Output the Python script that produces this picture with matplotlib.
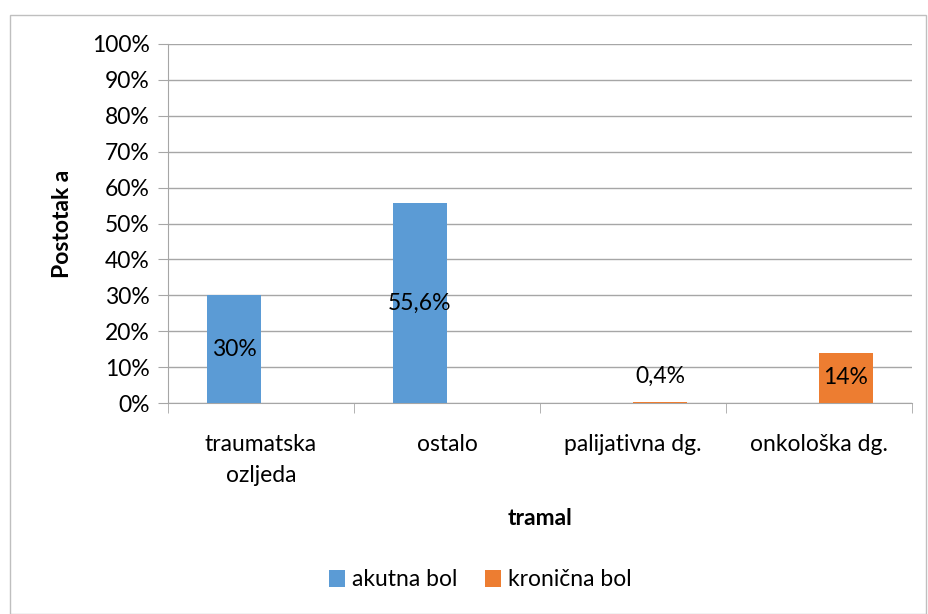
import matplotlib.pyplot as plt
import numpy as np
from matplotlib.patches import Rectangle

plt.rcParams["font.family"] = ["Lato", "DejaVu Sans"]

categories = ["traumatska\nozljeda", "ostalo", "palijativna dg.", "onkološka dg."]
akutna = [30, 55.6, 0, 0]
kronicna = [0, 0, 0.4, 14]
akutna_labels = ["30%", "55,6%", None, None]
kronicna_labels = [None, None, "0,4%", "14%"]
yticks = list(range(0, 101, 10))

BLUE = "#5B9BD5"
ORANGE = "#ED7D31"
GRID = "#A6A6A6"
FS = 16.5

fig = plt.figure(figsize=(9.29, 6.14), dpi=100)
fig.patches.append(Rectangle((10 / 929, 0), 916 / 929, 599 / 614, transform=fig.transFigure,
                             fill=False, edgecolor="#BFBFBF", linewidth=1))
ax = fig.add_axes([168 / 929, 211 / 614, 744 / 929, 359 / 614])

x = np.arange(len(categories))
w = 0.29
b1 = ax.bar(x - w / 2, akutna, w, color=BLUE, label="akutna bol", zorder=3)
b2 = ax.bar(x + w / 2, kronicna, w, color=ORANGE, label="kronična bol", zorder=3)

for rect, lab in zip(b1, akutna_labels):
    if lab:
        ax.text(rect.get_x() + rect.get_width() / 2, rect.get_height() / 2, lab,
                ha="center", va="center", fontsize=FS, zorder=4)
for rect, lab, v in zip(b2, kronicna_labels, kronicna):
    if lab:
        if v < 5:
            ax.text(rect.get_x() + rect.get_width() / 2, v + 7, lab,
                    ha="center", va="center", fontsize=FS, zorder=4)
        else:
            ax.text(rect.get_x() + rect.get_width() / 2, v / 2, lab,
                    ha="center", va="center", fontsize=FS, zorder=4)

ax.set_xlim(-0.5, len(categories) - 0.5)
ax.set_ylim(0, 100)
ax.set_yticks(yticks)
ax.set_yticklabels([f"{t}%" for t in yticks], fontsize=FS)
ax.yaxis.grid(True, color=GRID, linewidth=1, zorder=0)

ax.set_xticks(x)
ax.set_xticklabels(categories, fontsize=FS, linespacing=1.6)
ax.set_xticks(np.arange(-0.5, len(categories)), minor=True)
ax.tick_params(axis="x", which="major", length=0, pad=22)
ax.tick_params(axis="x", which="minor", length=7, color=GRID)
ax.tick_params(axis="y", length=7, color=GRID, pad=6)

for s in ["top", "right"]:
    ax.spines[s].set_visible(False)
ax.spines["left"].set_color(GRID)
ax.spines["bottom"].set_color(GRID)

ax.set_ylabel("Postotak a", fontsize=FS, fontweight="bold", labelpad=14)
ax.set_xlabel("tramal", fontsize=FS, fontweight="bold", labelpad=16)

fig.legend(loc="center", bbox_to_anchor=(480 / 929, 1 - 580 / 614), ncol=2, frameon=False,
           fontsize=FS, handlelength=0.7, handleheight=0.7, handletextpad=0.3, columnspacing=1.2)

fig.savefig("out.png", dpi=100)
